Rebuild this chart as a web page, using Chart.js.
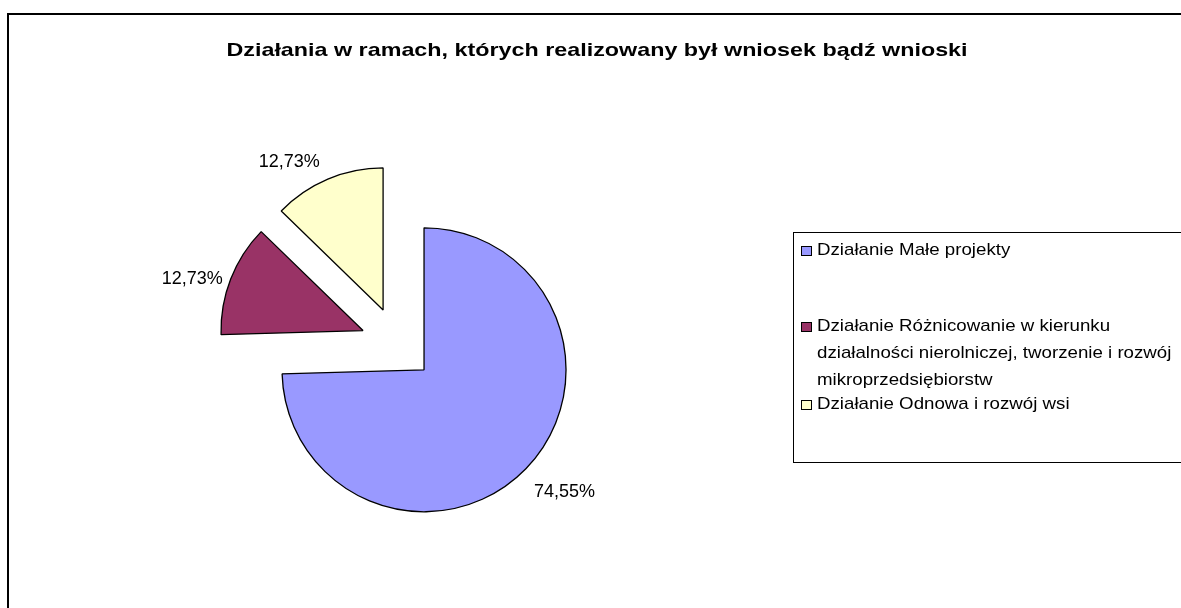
<!DOCTYPE html>
<html lang="pl">
<head>
<meta charset="utf-8">
<title>Działania</title>
<script src="https://cdn.jsdelivr.net/npm/chart.js@4.4.1/dist/chart.umd.min.js"></script>
<style>
  html, body { margin: 0; padding: 0; background: #fff; }
  #wrap { width: 1181px; height: 608px; }
</style>
</head>
<body>
<div id="wrap"><canvas id="pie" width="1181" height="608"></canvas></div>
<script>
const chartTitle = 'Działania w ramach, których realizowany był wniosek bądź wnioski';
const categories = [
  'Działanie Małe projekty',
  'Działanie Różnicowanie w kierunku działalności nierolniczej, tworzenie i rozwój mikroprzedsiębiorstw',
  'Działanie Odnowa i rozwój wsi'
];
const shares = [74.55, 12.73, 12.73];
const sliceColors = ['#9999ff', '#993366', '#ffffcc'];

const FONT = '"Liberation Sans", Arial, sans-serif';
const EXPLODE = 37;   // every slice pulled out of the centre, like the Excel original

function pct(v) {
    return v.toFixed(2).replace('.', ',') + '%';
}

// the exported chart draws Arial wider than normal, so text gets a horizontal scale
function wideText(ctx, txt, x, y, sx, align) {
    ctx.save();
    ctx.translate(x, y);
    ctx.scale(sx, 1);
    ctx.textAlign = align || 'left';
    ctx.fillText(txt, 0, 0);
    ctx.restore();
}

function wrapLines(ctx, txt, maxW, sx) {
    let words = txt.split(' ');
    let lines = [];
    let cur = '';
    words.forEach(w => {
        let test = cur ? cur + ' ' + w : w;
        if (cur && ctx.measureText(test).width * sx > maxW) {
            lines.push(cur);
            cur = w;
        } else {
            cur = test;
        }
    });
    if (cur) lines.push(cur);
    return lines;
}

// built-in `offset` also trims the slice angles, so move each arc along its mid angle instead
const explode = {
    id: 'explode',
    afterDatasetsUpdate(chart) {
        chart.getDatasetMeta(0).data.forEach(arc => {
            let mid = (arc.startAngle + arc.endAngle) / 2;
            arc.x += Math.cos(mid) * EXPLODE;
            arc.y += Math.sin(mid) * EXPLODE;
        });
    }
};

const excelLook = {
    id: 'excelLook',
    beforeDraw(chart) {
        let ctx = chart.ctx;
        ctx.save();
        ctx.fillStyle = '#fff';
        ctx.fillRect(0, 0, chart.width, chart.height);
        ctx.strokeStyle = '#000';
        ctx.lineWidth = 2;
        ctx.strokeRect(8, 14, chart.width + 40, chart.height + 40);
        ctx.restore();
    },
    afterDraw(chart) {
        let ctx = chart.ctx;
        ctx.save();
        ctx.fillStyle = '#000';

        // title
        ctx.font = 'bold 19px ' + FONT;
        ctx.textBaseline = 'alphabetic';
        wideText(ctx, chartTitle, 597, 56, 1.227, 'center');

        // legend box
        ctx.lineWidth = 1;
        ctx.strokeStyle = '#000';
        ctx.strokeRect(793.5, 232.5, 500, 230);

        ctx.font = '17px ' + FONT;
        ctx.textBaseline = 'middle';
        const rowY = [250, 326, 404];
        const lineH = 27;
        const sx = 1.1;
        categories.forEach((c, i) => {
            let y = rowY[i];
            ctx.fillStyle = sliceColors[i];
            ctx.fillRect(801.5, y - 3.5, 10, 9);
            ctx.strokeRect(801.5, y - 3.5, 10, 9);
            ctx.fillStyle = '#000';
            wrapLines(ctx, c, 362, sx).forEach((ln, k) => {
                wideText(ctx, ln, 817, y + k * lineH, sx);
            });
        });

        // value labels outside each slice
        ctx.font = '18px ' + FONT;
        ctx.textBaseline = 'middle';
        chart.getDatasetMeta(0).data.forEach((arc, i) => {
            let mid = (arc.startAngle + arc.endAngle) / 2;
            let dx = Math.cos(mid), dy = Math.sin(mid);
            let px = arc.x + dx * arc.outerRadius;
            let py = arc.y + dy * arc.outerRadius;
            ctx.textAlign = dx >= 0 ? 'left' : 'right';
            ctx.fillText(pct(shares[i]), px + Math.sign(dx) * 8, py + dy * 24 - Math.abs(dy) * 6 + 11);
        });
        ctx.restore();
    }
};

const data = {
    labels: categories,
    datasets: [{
        data: shares,
        backgroundColor: sliceColors,
        borderColor: '#000',
        borderWidth: 1.3,
        hoverOffset: 0
    }]
};

const config = {
    type: 'pie',
    data: data,
    options: {
        responsive: false,
        animation: false,
        events: [],
        radius: 142,
        layout: { padding: { left: 248, right: 634, top: 194, bottom: 114 } },
        plugins: {
            legend: { display: false },
            title: { display: false },
            tooltip: { enabled: false }
        }
    },
    plugins: [explode, excelLook]
};

let c = document.getElementById('pie').getContext('2d');
new Chart(c, config);
</script>
</body>
</html>
